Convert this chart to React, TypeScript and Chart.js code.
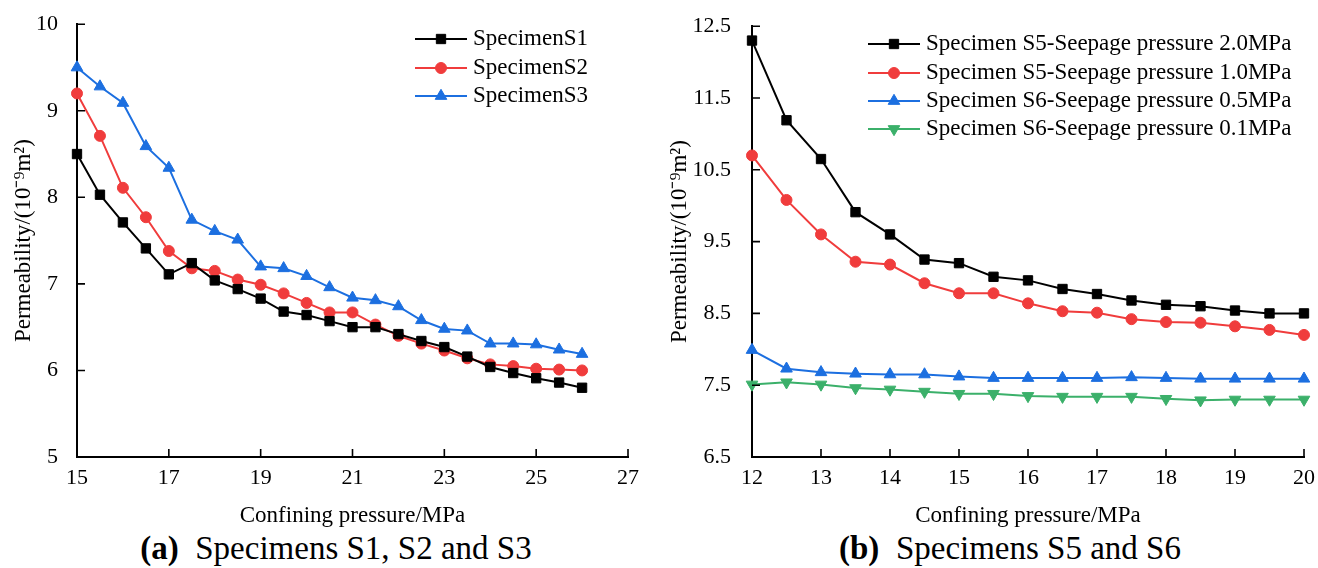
import React, { useEffect, useRef } from "react";
import { Chart, registerables } from "chart.js";
import { drawPoint } from "chart.js/helpers";

Chart.register(...registerables);

const FONT = "'Liberation Serif', 'Times New Roman', Times, serif";

// ---------- Panel (a) data ----------
const pressureA = [15, 15.5, 16, 16.5, 17, 17.5, 18, 18.5, 19, 19.5, 20, 20.5, 21, 21.5, 22, 22.5, 23, 23.5, 24, 24.5, 25, 25.5, 26];
const specimenS1 = [8.5, 8.03, 7.71, 7.41, 7.11, 7.24, 7.04, 6.94, 6.83, 6.68, 6.64, 6.57, 6.5, 6.5, 6.42, 6.34, 6.27, 6.16, 6.04, 5.97, 5.91, 5.86, 5.8];
const specimenS2 = [9.2, 8.71, 8.11, 7.77, 7.38, 7.18, 7.15, 7.05, 6.99, 6.89, 6.78, 6.67, 6.67, 6.53, 6.4, 6.31, 6.23, 6.14, 6.07, 6.05, 6.02, 6.01, 6.0];
const specimenS3 = [9.5, 9.28, 9.09, 8.59, 8.34, 7.74, 7.61, 7.51, 7.2, 7.18, 7.09, 6.96, 6.84, 6.81, 6.74, 6.58, 6.48, 6.46, 6.31, 6.31, 6.3, 6.24, 6.19];
const labelsA = ["SpecimenS1", "SpecimenS2", "SpecimenS3"];
const xTicksA = [15, 17, 19, 21, 23, 25, 27];
const yTicksA = [5, 6, 7, 8, 9, 10];

// ---------- Panel (b) data ----------
const pressureB = [12, 12.5, 13, 13.5, 14, 14.5, 15, 15.5, 16, 16.5, 17, 17.5, 18, 18.5, 19, 19.5, 20];
const s5Seepage20 = [12.3, 11.19, 10.65, 9.91, 9.6, 9.25, 9.2, 9.01, 8.96, 8.84, 8.77, 8.68, 8.62, 8.6, 8.54, 8.5, 8.5];
const s5Seepage10 = [10.7, 10.08, 9.6, 9.22, 9.18, 8.92, 8.78, 8.78, 8.64, 8.53, 8.51, 8.42, 8.38, 8.37, 8.32, 8.27, 8.2];
const s6Seepage05 = [7.99, 7.73, 7.68, 7.66, 7.65, 7.65, 7.62, 7.6, 7.6, 7.6, 7.6, 7.61, 7.6, 7.59, 7.59, 7.59, 7.59];
const s6Seepage01 = [7.51, 7.54, 7.51, 7.46, 7.44, 7.41, 7.38, 7.38, 7.35, 7.34, 7.34, 7.34, 7.31, 7.29, 7.3, 7.3, 7.3];
const labelsB = [
  "Specimen S5-Seepage pressure 2.0MPa",
  "Specimen S5-Seepage pressure 1.0MPa",
  "Specimen S6-Seepage pressure 0.5MPa",
  "Specimen S6-Seepage pressure 0.1MPa",
];
const xTicksB = [12, 13, 14, 15, 16, 17, 18, 19, 20];
const yTicksB = [6.5, 7.5, 8.5, 9.5, 10.5, 11.5, 12.5];

const xTitle = "Confining pressure/MPa";
const yTitle = "Permeability/(10\u207B\u2079m\u00B2)";

type Style = { color: string; pointStyle: string; radius: number; rotation: number };
const BLACK: Style = { color: "#000000", pointStyle: "rect", radius: 6.6, rotation: 0 };
const RED: Style = { color: "#f03c3c", pointStyle: "circle", radius: 5.5, rotation: 0 };
const BLUE: Style = { color: "#1c6fe0", pointStyle: "triangle", radius: 6.7, rotation: 0 };
const GREEN: Style = { color: "#3bb06a", pointStyle: "triangle", radius: 6.7, rotation: 180 };

function makeDataset(label: string, xs: number[], ys: number[], s: Style) {
  return {
    label,
    data: xs.map((x, i) => ({ x, y: ys[i] })),
    borderColor: s.color,
    backgroundColor: s.color,
    pointBackgroundColor: s.color,
    pointBorderColor: s.color,
    pointStyle: s.pointStyle,
    pointRadius: s.radius,
    pointRotation: s.rotation,
    pointBorderWidth: 1,
    borderWidth: 2,
    tension: 0,
    clip: false,
  };
}

const inwardTicks = {
  id: "inwardTicks",
  afterDraw(chart: any) {
    const { ctx, chartArea } = chart;
    const xs = chart.scales.x;
    const ys = chart.scales.y;
    ctx.save();
    ctx.strokeStyle = "#000";
    ctx.lineWidth = 1.6;
    ctx.beginPath();
    xs.ticks.forEach((t: any) => {
      const px = xs.getPixelForValue(t.value);
      ctx.moveTo(px, chartArea.bottom);
      ctx.lineTo(px, chartArea.bottom - 8);
    });
    ys.ticks.forEach((t: any) => {
      const py = ys.getPixelForValue(t.value);
      ctx.moveTo(chartArea.left, py);
      ctx.lineTo(chartArea.left + 8, py);
    });
    ctx.stroke();
    ctx.restore();
  },
};

function makeLegend(cfg: { x0: number; x1: number; xm: number; xt: number; rows: number[] }) {
  return {
    id: "insetLegend",
    afterDraw(chart: any) {
      const ctx = chart.ctx;
      ctx.save();
      chart.data.datasets.forEach((ds: any, i: number) => {
        const y = cfg.rows[i];
        ctx.strokeStyle = ds.borderColor;
        ctx.lineWidth = 2;
        ctx.beginPath();
        ctx.moveTo(cfg.x0, y);
        ctx.lineTo(cfg.x1, y);
        ctx.stroke();
        ctx.fillStyle = ds.pointBackgroundColor;
        ctx.strokeStyle = ds.pointBorderColor;
        ctx.lineWidth = 1;
        drawPoint(ctx, { pointStyle: ds.pointStyle, rotation: ds.pointRotation, radius: ds.pointRadius, borderWidth: 1 } as any, cfg.xm, y);
        ctx.fillStyle = "#000";
        ctx.font = `23px ${FONT}`;
        ctx.textAlign = "left";
        ctx.textBaseline = "middle";
        ctx.fillText(ds.label, cfg.xt, y);
      });
      ctx.restore();
    },
  };
}

type PanelOpts = {
  datasets: any[];
  xMin: number; xMax: number; xTicks: number[];
  yMin: number; yMax: number; yTicks: number[];
  yAxisWidth: number; padRight: number; yTitlePad: number; yTickPad: number;
  legend: { x0: number; x1: number; xm: number; xt: number; rows: number[] };
};

function buildConfig(o: PanelOpts): any {
  return {
    type: "line",
    data: { datasets: o.datasets },
    options: {
      animation: false,
      responsive: false,
      devicePixelRatio: 1,
      events: [],
      layout: { padding: { top: 18, right: o.padRight, left: 0, bottom: 0 } },
      plugins: { legend: { display: false }, tooltip: { enabled: false } },
      scales: {
        x: {
          type: "linear",
          min: o.xMin,
          max: o.xMax,
          grid: { display: false },
          border: { display: true, color: "#000", width: 2 },
          afterBuildTicks: (s: any) => { s.ticks = o.xTicks.map((v) => ({ value: v })); },
          afterFit: (s: any) => { s.height = 73; s.paddingLeft = 0; s.paddingRight = 0; },
          ticks: { color: "#000", padding: 0, maxRotation: 0, font: { family: FONT, size: 22 }, callback: (v: any) => String(v) },
          title: { display: true, text: xTitle, color: "#000", font: { family: FONT, size: 23 }, padding: { top: 0, bottom: 0 } },
        },
        y: {
          type: "linear",
          min: o.yMin,
          max: o.yMax,
          grid: { display: false },
          border: { display: true, color: "#000", width: 2 },
          afterBuildTicks: (s: any) => { s.ticks = o.yTicks.map((v) => ({ value: v })); },
          afterFit: (s: any) => { s.width = o.yAxisWidth; },
          ticks: { color: "#000", padding: o.yTickPad, font: { family: FONT, size: 22 }, callback: (v: any) => String(v) },
          title: { display: true, text: yTitle, color: "#000", font: { family: FONT, size: 23 }, padding: { top: o.yTitlePad, bottom: 0 } },
        },
      },
    },
    plugins: [inwardTicks, makeLegend(o.legend)],
  };
}

function Panel({ left, width, opts }: { left: number; width: number; opts: PanelOpts }) {
  const ref = useRef<HTMLCanvasElement | null>(null);
  useEffect(() => {
    if (!ref.current) return;
    const chart = new Chart(ref.current, buildConfig(opts));
    return () => chart.destroy();
  }, []);
  return (
    <canvas
      ref={ref}
      width={width}
      height={530}
      style={{ position: "absolute", left, top: 0, width, height: 530 }}
    />
  );
}

export default function App() {
  const optsA: PanelOpts = {
    datasets: [
      makeDataset(labelsA[0], pressureA, specimenS1, BLACK),
      makeDataset(labelsA[1], pressureA, specimenS2, RED),
      makeDataset(labelsA[2], pressureA, specimenS3, BLUE),
    ],
    xMin: 15, xMax: 27, xTicks: xTicksA,
    yMin: 5, yMax: 10, yTicks: yTicksA,
    yAxisWidth: 77, padRight: 32, yTitlePad: 10, yTickPad: 11,
    legend: { x0: 415, x1: 467, xm: 441, xt: 473, rows: [39, 68, 96] },
  };
  const optsB: PanelOpts = {
    datasets: [
      makeDataset(labelsB[0], pressureB, s5Seepage20, BLACK),
      makeDataset(labelsB[1], pressureB, s5Seepage10, RED),
      makeDataset(labelsB[2], pressureB, s6Seepage05, BLUE),
      makeDataset(labelsB[3], pressureB, s6Seepage01, GREEN),
    ],
    xMin: 12, xMax: 20, xTicks: xTicksB,
    yMin: 6.5, yMax: 12.5, yTicks: yTicksB,
    yAxisWidth: 92, padRight: 14, yTitlePad: 6, yTickPad: 13,
    legend: { x0: 208, x1: 260, xm: 234, xt: 266, rows: [44, 73, 101, 129] },
  };
  const capStyle: React.CSSProperties = {
    position: "absolute",
    top: 532,
    width: 500,
    textAlign: "center",
    whiteSpace: "pre",
    fontFamily: FONT,
    fontSize: 33,
    lineHeight: "32px",
    color: "#000",
  };
  return (
    <div style={{ position: "absolute", left: 0, top: 0, width: 1318, height: 568, background: "#fff", overflow: "hidden" }}>
      <Panel left={0} width={660} opts={optsA} />
      <Panel left={660} width={658} opts={optsB} />
      <div style={{ ...capStyle, left: 336 - 250 }}>
        <b>(a)</b>{"  Specimens S1, S2 and S3"}
      </div>
      <div style={{ ...capStyle, left: 1010 - 250 }}>
        <b>(b)</b>{"  Specimens S5 and S6"}
      </div>
    </div>
  );
}
